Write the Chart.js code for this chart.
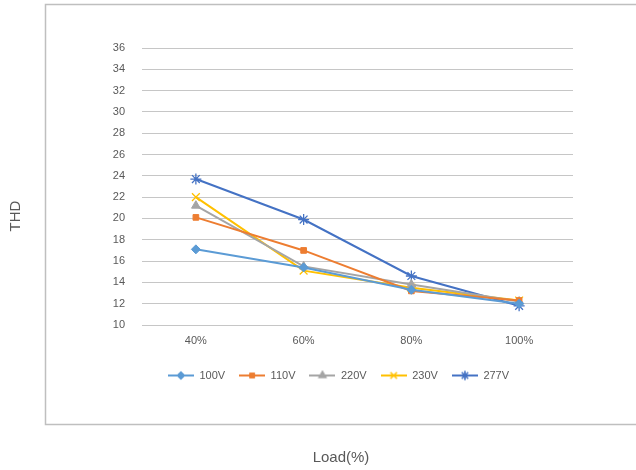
<!DOCTYPE html>
<html>
<head>
<meta charset="utf-8">
<script src="https://cdn.jsdelivr.net/npm/chart.js@4/dist/chart.umd.min.js"></script>
<style>
  html, body { margin: 0; padding: 0; background: #fff; }
  #wrap { width: 636px; height: 470px; }
</style>
</head>
<body>
<div id="wrap"><canvas id="thdChart" width="636" height="470"></canvas></div>
<script>
// Data
const loads = ["40%", "60%", "80%", "100%"];
const v100 = [17.1, 15.4, 13.3, 12.0];
const v110 = [20.1, 17.0, 13.2, 12.3];
const v220 = [21.2, 15.5, 13.8, 12.2];
const v230 = [22.0, 15.1, 13.5, 12.3];
const v277 = [23.7, 19.9, 14.6, 11.8];
const yTicks = [10, 12, 14, 16, 18, 20, 22, 24, 26, 28, 30, 32, 34, 36];

const FONT = "'Liberation Sans', Arial, sans-serif";
const GREY = "#595959";

function series(label, data, color, style, radius) {
  return {
    label: label,
    data: data,
    borderColor: color,
    backgroundColor: color,
    borderWidth: 2,
    pointStyle: style,
    pointRadius: radius,
    pointBorderWidth: style === "star" || style === "crossRot" ? 1.3 : 1,
    pointBorderColor: color,
    pointBackgroundColor: color,
    tension: 0,
  };
}

const datasets = [
  series("100V", v100, "#5B9BD5", "rectRot", 4.5),
  series("110V", v110, "#ED7D31", "rect", 4),
  series("220V", v220, "#A5A5A5", "triangle", 5),
  series("230V", v230, "#FFC000", "crossRot", 5.5),
  series("277V", v277, "#4472C4", "star", 5.5),
];

// little line+marker icons for the legend
function legendIcon(ds) {
  const c = document.createElement("canvas");
  c.width = 26;
  c.height = 12;
  const g = c.getContext("2d");
  g.strokeStyle = ds.borderColor;
  g.lineWidth = 2;
  g.beginPath();
  g.moveTo(0, 6);
  g.lineTo(26, 6);
  g.stroke();
  g.lineWidth = 1.2;
  Chart.helpers.drawPoint(g, {
    pointStyle: ds.pointStyle,
    radius: ds.pointRadius - 1,
    rotation: 0,
    borderWidth: 1.2,
  }, 13, 6);
  g.fillStyle = ds.borderColor;
  g.fill();
  g.stroke();
  return c;
}

// frame and axis titles outside the chart box
const framePlugin = {
  id: "frame",
  beforeDraw(chart) {
    const ctx = chart.ctx;
    ctx.save();
    ctx.fillStyle = "#fff";
    ctx.fillRect(0, 0, chart.width, chart.height);
    ctx.strokeStyle = "#bfbfbf";
    ctx.lineWidth = 1.5;
    ctx.beginPath();
    ctx.moveTo(640, 4.5);
    ctx.lineTo(45.5, 4.5);
    ctx.lineTo(45.5, 424.5);
    ctx.lineTo(640, 424.5);
    ctx.stroke();
    ctx.fillStyle = GREY;
    ctx.font = "15px " + FONT;
    ctx.textAlign = "center";
    ctx.textBaseline = "middle";
    ctx.fillText("Load(%)", 341, 458);
    ctx.translate(16, 216);
    ctx.rotate(-Math.PI / 2);
    ctx.fillText("THD", 0, 0);
    ctx.restore();
  },
};

new Chart(document.getElementById("thdChart"), {
  type: "line",
  data: { labels: loads, datasets: datasets },
  plugins: [framePlugin],
  options: {
    responsive: false,
    animation: false,
    layout: { padding: { top: 48, right: 63, bottom: 79, left: 104 } },
    plugins: {
      tooltip: { enabled: false },
      legend: {
        position: "bottom",
        labels: {
          color: GREY,
          font: { family: FONT, size: 11 },
          usePointStyle: true,
          pointStyleWidth: 26,
          boxHeight: 11,
          padding: 14,
          generateLabels(chart) {
            return chart.data.datasets.map((ds, i) => ({
              text: ds.label,
              fontColor: GREY,
              pointStyle: legendIcon(ds),
              datasetIndex: i,
              lineWidth: 0,
              strokeStyle: ds.borderColor,
              fillStyle: ds.borderColor,
            }));
          },
        },
      },
    },
    scales: {
      x: {
        offset: true,
        grid: { display: false, drawTicks: false },
        border: { display: false },
        ticks: { color: GREY, font: { family: FONT, size: 11 }, padding: 9 },
        afterFit(scale) { scale.height = 31; },
      },
      y: {
        min: 10,
        max: 36,
        afterBuildTicks(scale) { scale.ticks = yTicks.map(v => ({ value: v })); },
        grid: { color: "#c6c6c6", lineWidth: 1, drawTicks: false },
        border: { display: false },
        ticks: { color: GREY, font: { family: FONT, size: 11 }, padding: 17 },
        afterFit(scale) { scale.width = 38; },
      },
    },
  },
});
</script>
</body>
</html>
